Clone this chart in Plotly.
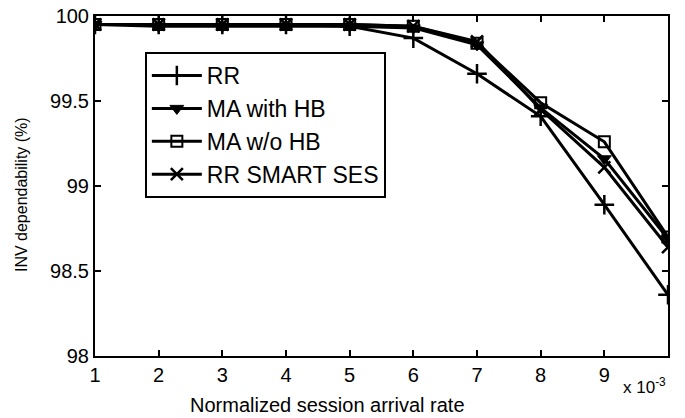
import plotly.graph_objects as go

x_vals = [1, 2, 3, 4, 5, 6, 7, 8, 9, 10]
rr = [99.95, 99.95, 99.95, 99.95, 99.94, 99.87, 99.66, 99.41, 98.89, 98.36]
ma_hb = [99.95, 99.94, 99.94, 99.94, 99.94, 99.93, 99.83, 99.46, 99.16, 98.69]
ma_nohb = [99.95, 99.95, 99.95, 99.95, 99.95, 99.94, 99.84, 99.49, 99.26, 98.70]
rr_smart = [99.95, 99.95, 99.95, 99.95, 99.95, 99.94, 99.85, 99.45, 99.11, 98.64]
series_names = ["RR", "MA with HB", "MA w/o HB", "RR SMART SES"]
x_ticks = [1, 2, 3, 4, 5, 6, 7, 8, 9]
y_ticks = [98, 98.5, 99, 99.5, 100]

FONT = "Liberation Sans, Arial, Helvetica"

styles = [
    dict(symbol="cross-thin-open", size=14, line=dict(width=2.5, color="black")),
    dict(symbol="triangle-down", size=12, color="black", line=dict(width=1, color="black")),
    dict(symbol="square-open", size=11, color="black", line=dict(width=2, color="black")),
    dict(symbol="x-thin-open", size=12, line=dict(width=2.5, color="black")),
]

fig = go.Figure()
for name, ys, mk in zip(series_names, [rr, ma_hb, ma_nohb, rr_smart], styles):
    fig.add_trace(go.Scatter(
        x=x_vals, y=ys, name=name, mode="lines+markers",
        line=dict(color="black", width=3), marker=mk,
    ))

axis_common = dict(
    showline=True, linecolor="black", linewidth=2, mirror="ticks",
    ticks="inside", ticklen=6, tickwidth=2, tickcolor="black",
    showgrid=False, zeroline=False, automargin=False,
    tickfont=dict(family=FONT, size=20, color="black"),
)

fig.update_layout(
    width=685, height=418,
    margin=dict(l=95, r=17, t=16, b=62),
    paper_bgcolor="white", plot_bgcolor="white",
    font=dict(family=FONT, color="black"),
    showlegend=True,
    legend=dict(
        x=0.087, y=0.894, xanchor="left", yanchor="top",
        bordercolor="black", borderwidth=2, bgcolor="white",
        font=dict(size=23, family=FONT, color="black"),
        itemwidth=50, tracegroupgap=0,
    ),
    xaxis=dict(axis_common, range=[1, 10], tickvals=x_ticks),
    yaxis=dict(axis_common, range=[98, 100], tickvals=y_ticks,
               ticktext=["98", "98.5", "99", "99.5", "100"]),
    annotations=[
        dict(x=0.405, y=-0.144, xref="paper", yref="paper", xanchor="center", yanchor="middle",
             text="Normalized session arrival rate", showarrow=False,
             font=dict(size=20, family=FONT, color="black")),
        dict(x=-0.127, y=0.474, xref="paper", yref="paper", xanchor="center", yanchor="middle",
             text="INV dependability (%)", textangle=-90, showarrow=False,
             font=dict(size=16, family=FONT, color="black")),
        dict(x=1.0, y=-0.05, xref="paper", yref="paper", xanchor="right", yanchor="top",
             text="x 10<sup>-3</sup>", showarrow=False,
             font=dict(size=17, family=FONT, color="black")),
    ],
)

fig.write_html("out.html", config={"displayModeBar": False},
               post_script="document.body.style.margin='0px';")
